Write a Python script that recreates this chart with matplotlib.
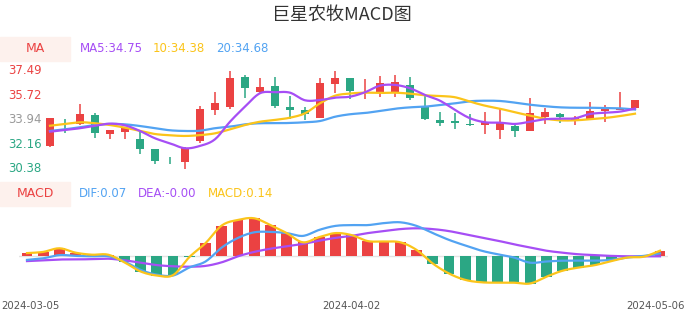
import matplotlib
matplotlib.use("Agg")
import matplotlib.pyplot as plt
from matplotlib.patches import Rectangle
import numpy as np

plt.rcParams['font.family'] = ['DejaVu Sans', 'Noto Sans CJK SC']

# daily candles, 2024-03-05 .. 2024-05-06 (40 trading days)
opens = [32.07, 33.78, 33.64, 34.29, 32.93, 33.04, 32.57, 31.81, 31.02, 30.91,
         32.43, 34.67, 34.89, 37.03, 35.93, 36.38, 34.89, 34.65, 34.09, 36.53,
         36.94, 35.94, 35.93, 35.95, 36.48, 34.96, 33.93, 33.85, 33.66, 33.56,
         33.22, 33.51, 33.15, 34.14, 34.34, 33.93, 34.02, 34.60, 34.68, 34.77]
closes = [34.05, 33.76, 34.36, 32.96, 33.20, 33.37, 31.85, 30.98, 31.00, 31.88,
          34.72, 35.13, 36.96, 36.22, 36.33, 34.96, 34.65, 34.34, 36.58, 36.94,
          36.02, 35.97, 36.58, 36.70, 35.54, 34.02, 33.71, 33.69, 33.54, 33.78,
          33.69, 33.15, 34.41, 34.48, 34.14, 34.05, 34.58, 34.89, 34.74, 35.37]
highs = [34.10, 33.98, 35.06, 34.41, 33.22, 33.40, 33.06, 31.83, 31.25, 31.95,
         34.92, 35.95, 37.45, 37.16, 36.96, 37.03, 35.68, 34.84, 36.96, 37.47,
         36.98, 36.89, 37.11, 37.18, 37.06, 35.68, 34.48, 34.41, 34.36, 34.48,
         34.70, 33.53, 35.49, 34.81, 34.45, 34.19, 35.23, 35.01, 35.95, 35.40]
lows = [31.99, 33.01, 33.54, 32.65, 32.53, 32.55, 31.45, 30.72, 30.74, 30.36,
        32.24, 34.27, 34.74, 35.54, 35.90, 34.77, 34.02, 33.93, 34.05, 35.88,
        35.47, 35.47, 35.59, 35.61, 35.37, 33.90, 33.47, 33.27, 33.47, 32.91,
        32.53, 32.67, 33.12, 33.64, 33.69, 33.56, 34.00, 33.76, 34.62, 34.75]

ma5 = [33.08, 33.20, 33.33, 33.51, 33.66, 33.54, 33.13, 32.60, 32.24, 31.88,
       32.05, 32.53, 33.80, 34.89, 35.86, 35.93, 35.90, 35.35, 35.37, 35.54,
       35.61, 35.93, 36.41, 36.46, 36.22, 35.73, 35.32, 34.65, 34.05, 33.76,
       33.73, 33.64, 33.80, 33.98, 34.02, 34.05, 34.36, 34.45, 34.53, 34.75]
ma10 = [33.51, 33.64, 33.76, 33.69, 33.56, 33.37, 33.13, 32.91, 32.82, 32.77,
        32.83, 32.96, 33.25, 33.56, 33.80, 33.93, 34.09, 34.41, 35.13, 35.68,
        35.84, 35.90, 35.88, 35.90, 35.83, 35.71, 35.66, 35.57, 35.25, 34.96,
        34.74, 34.48, 34.24, 34.02, 33.90, 33.90, 33.98, 34.07, 34.21, 34.38]
ma20 = [33.13, 33.25, 33.40, 33.56, 33.64, 33.61, 33.49, 33.33, 33.18, 33.13,
        33.15, 33.33, 33.44, 33.61, 33.69, 33.69, 33.71, 33.76, 33.85, 34.16,
        34.34, 34.43, 34.58, 34.74, 34.84, 34.89, 35.01, 35.13, 35.28, 35.32,
        35.30, 35.18, 35.03, 34.92, 34.84, 34.81, 34.81, 34.79, 34.77, 34.68]

dif = [-0.09, -0.05, 0.03, 0.01, 0.00, 0.00, -0.13, -0.34, -0.46, -0.48,
       -0.28, -0.13, 0.22, 0.46, 0.60, 0.61, 0.58, 0.51, 0.66, 0.76,
       0.78, 0.78, 0.83, 0.85, 0.76, 0.58, 0.41, 0.27, 0.14, 0.05,
       -0.03, -0.16, -0.13, -0.11, -0.11, -0.11, -0.09, -0.03, 0.01, 0.07]
dea = [-0.12, -0.10, -0.08, -0.08, -0.07, -0.06, -0.10, -0.16, -0.22, -0.25,
       -0.26, -0.24, -0.15, 0.00, 0.11, 0.19, 0.25, 0.31, 0.39, 0.46,
       0.51, 0.58, 0.63, 0.68, 0.70, 0.68, 0.63, 0.55, 0.47, 0.39,
       0.30, 0.22, 0.14, 0.09, 0.05, 0.03, 0.01, 0.00, 0.00, -0.00]
macd = [0.08, 0.11, 0.20, 0.09, 0.04, 0.04, -0.15, -0.38, -0.48, -0.47,
        -0.02, 0.33, 0.77, 0.91, 0.95, 0.78, 0.58, 0.35, 0.48, 0.58,
        0.53, 0.38, 0.37, 0.35, 0.16, -0.18, -0.43, -0.59, -0.65, -0.66,
        -0.66, -0.68, -0.51, -0.36, -0.28, -0.22, -0.12, -0.03, -0.01, 0.14]

date_labels = ["2024-03-05", "2024-04-02", "2024-05-06"]
date_idx = [0, 20, 39]
price_ticks = [37.49, 35.72, 33.94, 32.16, 30.38]

RED = '#eb4242'
GREEN = '#2ba784'
PURPLE = '#a64ef5'
YELLOW = '#fbc41a'
BLUE = '#52a3f2'
W, H = 686, 320


def rect(x0, y0, x1, y1):
    # pixel box -> figure fraction
    return [x0 / W, 1 - y1 / H, (x1 - x0) / W, (y1 - y0) / H]


def ftext(x, y, s, **kw):
    fig.text(x / W, 1 - y / H, s, **kw)


def smooth(y, n=12):
    # catmull-rom so lines look like the echarts smooth curves
    y = np.asarray(y, float)
    x = np.arange(len(y), dtype=float)
    px = np.concatenate([[2 * x[0] - x[1]], x, [2 * x[-1] - x[-2]]])
    py = np.concatenate([[2 * y[0] - y[1]], y, [2 * y[-1] - y[-2]]])
    t = np.linspace(0, 1, n, endpoint=False)[:, None]

    def cr(p):
        p0, p1, p2, p3 = p[:-3], p[1:-2], p[2:-1], p[3:]
        r = 0.5 * (2 * p1 + (-p0 + p2) * t + (2 * p0 - 5 * p1 + 4 * p2 - p3) * t ** 2
                   + (-p0 + 3 * p1 - 3 * p2 + p3) * t ** 3)
        return np.append(r.T.ravel(), p[-2])
    return cr(px), cr(py)


fig = plt.figure(figsize=(6.86, 3.2), dpi=100)

ftext(342, 15, '巨星农牧MACD图', ha='center', va='center', fontsize=13,
      color='#333333', family=['Noto Sans CJK SC', 'DejaVu Sans'])

# ---- price panel ----
ax = fig.add_axes(rect(42.5, 70.7, 642.5, 169))
n = len(closes)
for i in range(n):
    o, c, h, l = opens[i], closes[i], highs[i], lows[i]
    col = RED if c >= o else GREEN
    ax.vlines(i, l, h, color=col, lw=1.1, clip_on=False, zorder=2)
    ax.bar(i, max(abs(c - o), 0.04), bottom=min(o, c), width=0.55, color=col,
           clip_on=False, zorder=2)
for vals, col in [(ma20, BLUE), (ma10, YELLOW), (ma5, PURPLE)]:
    sx, sy = smooth(vals)
    ax.plot(sx, sy, color=col, lw=1.6, clip_on=False, zorder=3)
ax.set_xlim(-0.5, n - 0.5)
ax.set_ylim(30.38, 37.49)
ax.axis('off')

fig.patches.append(Rectangle((0, 1 - 61 / H), 70 / W, 24 / H, transform=fig.transFigure,
                             color='#fdf1ed', zorder=0))
ftext(35, 48.5, 'MA', ha='center', va='center', fontsize=9, color=RED)
ftext(80, 48.5, 'MA5:%.2f' % ma5[-1], va='center', fontsize=8.5, color=PURPLE)
ftext(153, 48.5, '10:%.2f' % ma10[-1], va='center', fontsize=8.5, color=YELLOW)
ftext(216, 48.5, '20:%.2f' % ma20[-1], va='center', fontsize=8.5, color=BLUE)

tick_cols = [RED, RED, '#999999', GREEN, GREEN]
for v, col in zip(price_ticks, tick_cols):
    yp = 70.7 + (37.49 - v) / (37.49 - 30.38) * (169 - 70.7)
    ftext(8, yp, '%.2f' % v, va='center', fontsize=8.5, color=col)

# ---- MACD panel ----
ax2 = fig.add_axes(rect(18.9, 210, 668.1, 290))
xs = np.arange(n)
bar_cols = [RED if v >= 0 else GREEN for v in macd]
ax2.axhline(0, color='#e3e3e3', lw=1, zorder=1)
ax2.bar(xs, macd, width=0.66, color=bar_cols, zorder=2)
for vals, col in [(dea, PURPLE), (dif, BLUE), (macd, YELLOW)]:
    sx, sy = smooth(vals)
    ax2.plot(sx, sy, color=col, lw=1.6, zorder=3)
ax2.set_xlim(-0.5, n - 0.5)
ax2.set_ylim(-0.8425, 1.1575)
ax2.axis('off')

fig.patches.append(Rectangle((0, 1 - 206 / H), 70 / W, 24 / H, transform=fig.transFigure,
                             color='#fdf1ed', zorder=0))
ftext(35, 193.5, 'MACD', ha='center', va='center', fontsize=9, color=RED)
ftext(79, 193.5, 'DIF:%.2f' % dif[-1], va='center', fontsize=8.5, color=BLUE)
ftext(138, 193.5, 'DEA:%.2f' % dea[-1], va='center', fontsize=8.5, color=PURPLE)
ftext(208, 193.5, 'MACD:%.2f' % macd[-1], va='center', fontsize=8.5, color=YELLOW)

# dates under the macd bars, end labels kept inside the canvas
for k, (lab, i) in enumerate(zip(date_labels, date_idx)):
    xp = 18.9 + (i + 0.5) * (668.1 - 18.9) / n
    if k == 0:
        ftext(1, 306, lab, ha='left', va='center', fontsize=7.3, color='#555555')
    elif k == len(date_labels) - 1:
        ftext(685, 306, lab, ha='right', va='center', fontsize=7.3, color='#555555')
    else:
        ftext(xp, 306, lab, ha='center', va='center', fontsize=7.3, color='#555555')

fig.savefig('out.png', dpi=100)
